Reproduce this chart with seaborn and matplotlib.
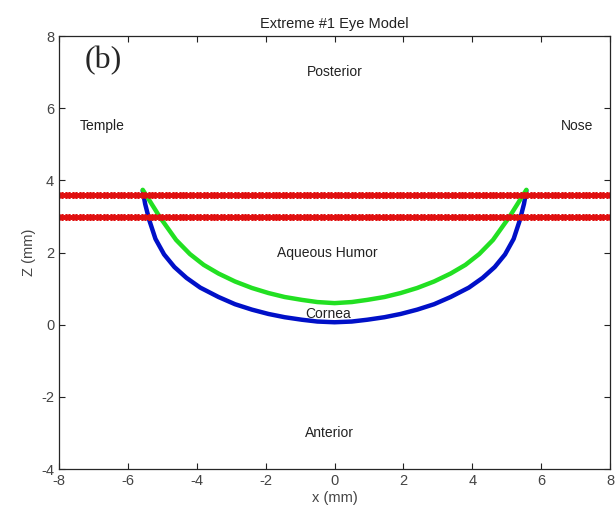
import numpy as np
import pandas as pd
import matplotlib
matplotlib.use("Agg")
import matplotlib.pyplot as plt
import seaborn as sns

# values (mm); right half, the surfaces are mirrored about x = 0
blue_half_x = [0.0, 0.5, 0.95, 1.45, 1.92, 2.4, 2.89, 3.37, 3.9, 4.3, 4.65, 4.95, 5.2, 5.38, 5.5, 5.57]
blue_half_z = [0.07, 0.09, 0.14, 0.21, 0.30, 0.42, 0.57, 0.77, 1.03, 1.30, 1.60, 1.95, 2.38, 2.90, 3.35, 3.72]
green_half_x = [0.0, 0.5, 0.95, 1.45, 1.92, 2.4, 2.89, 3.37, 3.8, 4.2, 4.6, 5.07, 5.3, 5.45, 5.57]
green_half_z = [0.60, 0.63, 0.69, 0.77, 0.88, 1.02, 1.20, 1.42, 1.66, 1.96, 2.35, 2.98, 3.33, 3.56, 3.74]
red_levels = [3.6, 3.0]
red_x = np.linspace(-8, 8, 161)  # sampling grid of the marker rows

region_labels = ["Posterior", "Temple", "Nose", "Aqueous Humor", "Cornea", "Anterior"]
region_x = [0.0, -6.75, 7.05, -0.2, -0.2, -0.15]
region_z = [7.0, 5.5, 5.5, 2.0, 0.3, -3.0]


def mirror(hx, hz):
    xs = [-v for v in hx[:0:-1]] + list(hx)
    zs = list(hz[:0:-1]) + list(hz)
    return pd.DataFrame({"x": xs, "z": zs})


sns.set_style("ticks")
plt.rcParams["font.family"] = ["Liberation Sans", "DejaVu Sans"]
plt.rcParams["axes.unicode_minus"] = False

fig = plt.figure(figsize=(6.15, 5.23), dpi=100)
ax = fig.add_axes([0.096, 0.103, 0.896, 0.828])

sns.lineplot(data=mirror(blue_half_x, blue_half_z), x="x", y="z", sort=False,
             estimator=None, color="#0010c8", linewidth=3.2, ax=ax)
sns.lineplot(data=mirror(green_half_x, green_half_z), x="x", y="z", sort=False,
             estimator=None, color="#22e022", linewidth=3.2, ax=ax)

for lvl in red_levels:
    red_df = pd.DataFrame({"x": red_x, "z": [lvl] * len(red_x)})
    sns.lineplot(data=red_df, x="x", y="z", sort=False, estimator=None,
                 color="#e01010", linewidth=0, marker=(6, 2, 0),
                 markersize=5, markeredgewidth=1.2, markeredgecolor="#e01010", ax=ax)

for lab, lx, lz in zip(region_labels, region_x, region_z):
    ax.text(lx, lz, lab, ha="center", va="center", fontsize=10, color="#222222")

ax.text(-6.72, 7.33, "(b)", fontsize=23, family=["Liberation Serif", "DejaVu Serif"],
        ha="center", va="center")

ax.set_xlim(-8, 8)
ax.set_ylim(-4, 8)
ax.set_xticks(range(-8, 9, 2))
ax.set_yticks(range(-4, 9, 2))
ax.tick_params(direction="in", top=True, right=True, labelsize=10.5, length=4,
               colors="#222222", labelcolor="#444444")
for s in ax.spines.values():
    s.set_visible(True)
    s.set_linewidth(0.9)
ax.set_xlabel("x (mm)", fontsize=10.5, color="#444444", labelpad=2)
ax.set_ylabel("Z (mm)", fontsize=10.5, color="#444444", labelpad=4)
ax.set_title("Extreme #1 Eye Model", fontsize=10.5, color="#222222", pad=6)

fig.savefig("out.png", dpi=100)
